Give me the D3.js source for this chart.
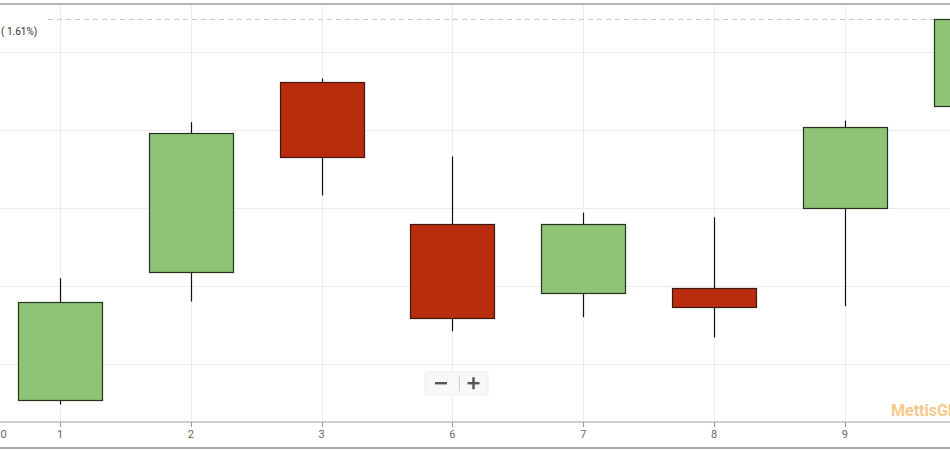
<!DOCTYPE html>
<html>
<head>
<meta charset="utf-8">
<script src="https://cdn.jsdelivr.net/npm/d3@7"></script>
<style>
  html, body { margin: 0; padding: 0; background: #fff; overflow: hidden; }
  svg { display: block; font-family: Roboto, "Open Sans", sans-serif; }
</style>
</head>
<body>
<svg id="chart" width="950" height="450"></svg>
<script>
// ---- data ----
const categories = ["30", "1", "2", "3", "6", "7", "8", "9", "10"];
const openVals  = [null, 39.77, 40.59, 41.81, 40.90, 40.46, 40.49, 41.00, 41.65];
const highVals  = [null, 40.55, 41.55, 41.83, 41.33, 40.97, 40.94, 41.56, 42.21];
const lowVals   = [null, 39.74, 40.40, 41.08, 40.21, 40.30, 40.17, 40.37, 41.65];
const closeVals = [null, 40.40, 41.48, 41.33, 40.30, 40.90, 40.37, 41.52, 42.21];
const changeLabel = "( 1.61%)";
const watermark = "MettisGlobal";

// ---- layout ----
const W = 950, H = 450;
const plotTop = 5, axisY = 422;
const svg = d3.select("#chart");

const idx = categories.map((c, i) => i);
const x = d3.scaleLinear().domain([0.5413, 7.804]).range([0, W]);
const y = d3.scaleLinear().domain([39.628, 42.301]).range([axisY, plotTop]);
const step = x(1) - x(0);
const bodyW = step * 0.642;

const candles = idx.filter(i => openVals[i] !== null).map(i => ({
  i, cat: categories[i], o: openVals[i], h: highVals[i], l: lowVals[i], c: closeVals[i]
}));

// clip for plot area
svg.append("defs").append("clipPath").attr("id", "plotClip")
  .append("rect").attr("x", 0).attr("y", plotTop).attr("width", W).attr("height", axisY - plotTop);

// gridlines
const grid = svg.append("g");
grid.selectAll("line.h").data(y.ticks(5)).join("line")
  .attr("x1", 0).attr("x2", W)
  .attr("y1", d => Math.round(y(d)) + 0.5).attr("y2", d => Math.round(y(d)) + 0.5)
  .attr("stroke", "#ececec").attr("stroke-width", 1);
grid.selectAll("line.v").data(idx.filter(i => x(i) > 0 && x(i) < W)).join("line")
  .attr("x1", d => Math.round(x(d)) + 0.5).attr("x2", d => Math.round(x(d)) + 0.5)
  .attr("y1", plotTop).attr("y2", axisY)
  .attr("stroke", "#ececec").attr("stroke-width", 1);

// last price dashed line
const lastClose = closeVals[closeVals.length - 1];
svg.append("line")
  .attr("x1", 48).attr("x2", W)
  .attr("y1", Math.round(y(lastClose)) + 0.5).attr("y2", Math.round(y(lastClose)) + 0.5)
  .attr("stroke", "#c8c8c8").attr("stroke-width", 1).attr("stroke-dasharray", "5,4");

svg.append("text").attr("x", 1).attr("y", 35)
  .attr("font-size", 10).attr("fill", "#333").text(changeLabel);

// candles
const cg = svg.append("g").attr("clip-path", "url(#plotClip)");
cg.selectAll("line.wick").data(candles).join("line")
  .attr("x1", d => Math.round(x(d.i)) + 0.5).attr("x2", d => Math.round(x(d.i)) + 0.5)
  .attr("y1", d => y(d.h)).attr("y2", d => y(d.l))
  .attr("stroke", "#111").attr("stroke-width", 1.2);
cg.selectAll("rect.body").data(candles).join("rect")
  .attr("x", d => Math.round(x(d.i) - bodyW / 2) + 0.5)
  .attr("y", d => Math.round(y(Math.max(d.o, d.c))) + 0.5)
  .attr("width", Math.round(bodyW))
  .attr("height", d => Math.max(1, Math.round(y(Math.min(d.o, d.c)) - y(Math.max(d.o, d.c)))))
  .attr("fill", d => d.c >= d.o ? "#8fc377" : "#b92c0e")
  .attr("stroke", d => d.c >= d.o ? "#23331e" : "#3a1a12")
  .attr("stroke-width", 1.2);

// borders and axis
svg.append("line").attr("x1", 0).attr("x2", W).attr("y1", 4).attr("y2", 4)
  .attr("stroke", "#b5b5b5").attr("stroke-width", 2);
svg.append("line").attr("x1", 0).attr("x2", W).attr("y1", 448).attr("y2", 448)
  .attr("stroke", "#8a8a8a").attr("stroke-width", 1.5);
svg.append("line").attr("x1", 0).attr("x2", W).attr("y1", axisY).attr("y2", axisY)
  .attr("stroke", "#c0c0c0").attr("stroke-width", 1.5);

// ticks and labels
const ax = svg.append("g");
ax.selectAll("line").data(idx.filter(i => x(i) > 0 && x(i) < W)).join("line")
  .attr("x1", d => Math.round(x(d)) + 0.5).attr("x2", d => Math.round(x(d)) + 0.5)
  .attr("y1", axisY).attr("y2", axisY + 5)
  .attr("stroke", "#999").attr("stroke-width", 1);
ax.selectAll("text").data(idx.filter(i => x(i) < W)).join("text")
  .attr("x", d => Math.max(x(d), 0.5))
  .attr("y", 438)
  .attr("text-anchor", "middle")
  .attr("font-size", 11).attr("fill", "#666")
  .text(d => categories[d]);

// zoom control
const zc = svg.append("g");
zc.append("rect").attr("x", 425).attr("y", 372).attr("width", 63).attr("height", 23)
  .attr("fill", "#f8f8f8").attr("stroke", "#ededed").attr("rx", 2);
zc.append("line").attr("x1", 459.5).attr("x2", 459.5).attr("y1", 376).attr("y2", 391)
  .attr("stroke", "#cfcfcf");
zc.append("rect").attr("x", 435).attr("y", 382).attr("width", 12).attr("height", 2.4).attr("fill", "#555");
zc.append("rect").attr("x", 467.5).attr("y", 382).attr("width", 12).attr("height", 2.4).attr("fill", "#555");
zc.append("rect").attr("x", 472.3).attr("y", 377.2).attr("width", 2.4).attr("height", 12).attr("fill", "#555");

// watermark
svg.append("text").attr("x", 891).attr("y", 416)
  .attr("font-size", 16).attr("font-weight", "bold").attr("fill", "#f7c88c")
  .text(watermark);
</script>
</body>
</html>
